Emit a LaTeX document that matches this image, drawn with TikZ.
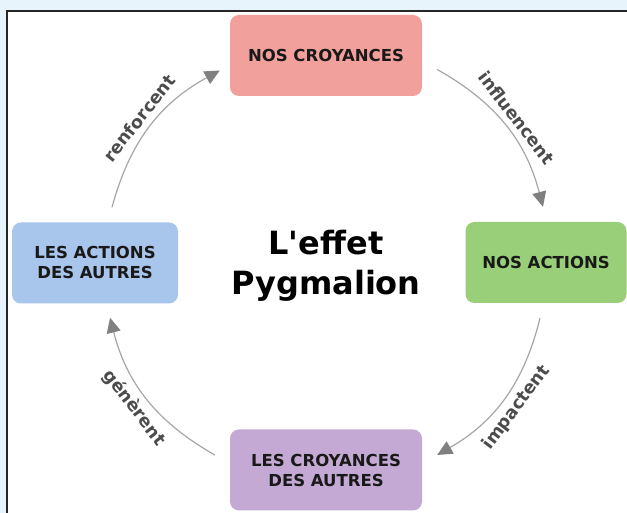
\documentclass[tikz,border=0pt]{standalone}
\usepackage{fontspec}
\setmainfont{DejaVu Sans}
\usepackage{tikz}
\usetikzlibrary{arrows.meta}

\definecolor{fondBleu}{HTML}{E8F4FC}
\definecolor{rouge}{HTML}{F1A09B}
\definecolor{vert}{HTML}{98CF78}
\definecolor{bleu}{HTML}{A8C5EB}
\definecolor{violet}{HTML}{C3A9D3}
\definecolor{trait}{HTML}{A6A6A6}
\definecolor{pointe}{HTML}{808080}

\begin{document}
\begin{tikzpicture}[x=1pt,y=1pt]
\useasboundingbox (0,0) rectangle (627,513);
\fill[fondBleu] (0,0) rectangle (627,513);
\filldraw[fill=white,draw=black!85,line width=1.6pt] (7,-5) rectangle (640,502);

\begin{scope}[every node/.style={rounded corners=9pt,align=center,text=black!90,
              font=\bfseries\fontsize{16.5}{20}\selectfont,minimum height=81pt}]
    \node[fill=rouge,minimum width=192pt]  (nc) at (326,457.5) {NOS CROYANCES};
    \node[fill=vert,minimum width=161pt]   (na) at (546,250.5) {NOS ACTIONS};
    \node[fill=violet,minimum width=192pt] (ca) at (326,43)    {LES CROYANCES\\DES AUTRES};
    \node[fill=bleu,minimum width=166pt]   (aa) at (95,250)    {LES ACTIONS\\DES AUTRES};
\end{scope}

\node[font=\bfseries\fontsize{32}{40}\selectfont,align=center] (titre) at (326,247)
    {L\textquotesingle effet\\Pygmalion};

\begin{scope}[>={Triangle[length=15pt,width=14pt,color=pointe]},
              every node/.style={sloped,text=black!70,font=\bfseries\fontsize{17.5}{20}\selectfont},
              every edge/.style={draw=trait,line width=1.2pt}]
    \path [->] ([xshift=17pt,yshift=15pt]aa.north) edge[bend left=23]
        node[above=3pt] {renforcent} ([xshift=-10pt,yshift=-15pt]nc.west);
    \path [->] ([xshift=15pt,yshift=-14pt]nc.east) edge[bend left=23]
        node[above=3pt] {influencent} ([xshift=-3pt,yshift=15pt]na.north);
    \path [->] ([xshift=-6pt,yshift=-15pt]na.south) edge[bend left=23]
        node[below=3pt] {impactent} ([xshift=15pt,yshift=15pt]ca.east);
    \path [->] ([xshift=-15pt,yshift=15pt]ca.west) edge[bend left=23]
        node[below=3pt] {génèrent} ([xshift=15pt,yshift=-14pt]aa.south);
\end{scope}
\end{tikzpicture}
\end{document}
